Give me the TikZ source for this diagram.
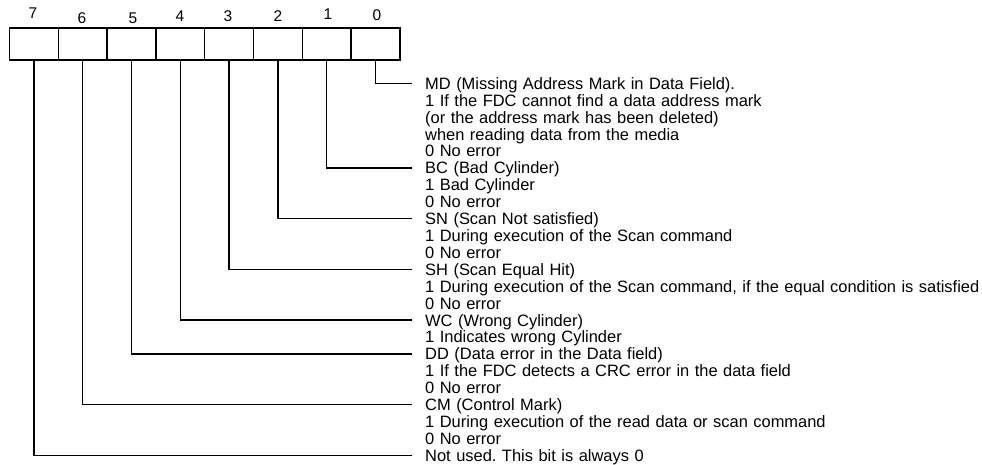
\documentclass[tikz,border=0pt]{standalone}
\usepackage{fontspec}
\setmainfont{Liberation Sans}
\frenchspacing
\begin{document}
\begin{tikzpicture}[x=1pt,y=-1pt,
  cell/.style={draw, line width=1.4pt, minimum width=48.8pt, minimum height=32pt, inner sep=0pt, outer sep=0pt},
  bitnum/.style={inner sep=0pt, font=\fontsize{15.5}{16}\selectfont},
  desc/.style={anchor=base west, inner sep=0pt, text width=556pt, align=left, font=\fontsize{16.45}{16.9}\selectfont},
  conn/.style={line width=1.3pt, shorten >=13.3pt}]
\useasboundingbox (0,0) rectangle (982,465);
% register cells
\foreach \i in {0,...,7} {
  \node[cell] (b\i) at ({9.5+48.8*(7-\i)+24.4},44) {};
}
% bit numbers
\node[bitnum] (n7) at (33,13.5) {7};
\node[bitnum] (n6) at (82,18) {6};
\node[bitnum] (n5) at (133,18) {5};
\node[bitnum] (n4) at (180,16) {4};
\node[bitnum] (n3) at (228,16) {3};
\node[bitnum] (n2) at (278,16.5) {2};
\node[bitnum] (n1) at (328,14) {1};
\node[bitnum] (n0) at (377,15) {0};
% descriptions (base = first line baseline; first line centre 5.9pt above)
\node[desc] (t0) at (425,89.4) {MD (Missing Address Mark in Data Field).\\1 If the FDC cannot find a data address mark\\(or the address mark has been deleted)\\when reading data from the media\\0 No error};
\node[desc] (t1) at (425,173.9) {BC (Bad Cylinder)\\1 Bad Cylinder\\0 No error};
\node[desc] (t2) at (425,224.6) {SN (Scan Not satisfied)\\1 During execution of the Scan command\\0 No error};
\node[desc] (t3) at (425,275.3) {SH (Scan Equal Hit)\\1 During execution of the Scan command, if the equal condition is satisfied\\0 No error};
\node[desc] (t4) at (425,326.0) {WC (Wrong Cylinder)\\1 Indicates wrong Cylinder};
\node[desc] (t5) at (425,359.8) {DD (Data error in the Data field)\\1 If the FDC detects a CRC error in the data field\\0 No error};
\node[desc] (t6) at (425,410.5) {CM (Control Mark)\\1 During execution of the read data or scan command\\0 No error};
\node[desc] (t7) at (425,461.2) {Not used. This bit is always 0};
% connectors
\foreach \i in {0,...,7} {
  \draw[conn] (b\i.south) |- ([yshift=5.9pt]t\i.base west);
}
\end{tikzpicture}
\end{document}
